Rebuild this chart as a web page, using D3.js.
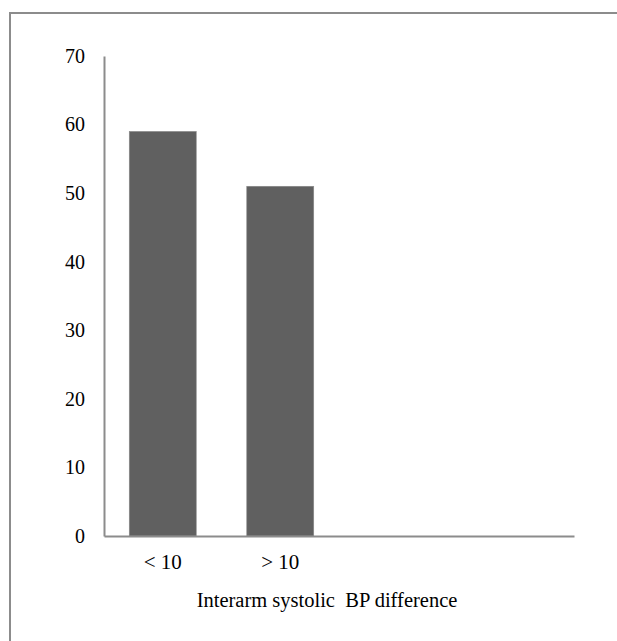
<!DOCTYPE html>
<html>
<head>
<meta charset="utf-8">
<script src="https://cdn.jsdelivr.net/npm/d3@7"></script>
<style>
  html, body { margin: 0; padding: 0; background: #fff; }
  svg { display: block; }
  svg text { font-family: "Liberation Serif", "Times New Roman", serif !important; fill: #000; white-space: pre; }
</style>
</head>
<body>
<svg id="chart" width="617" height="641"></svg>
<script>
// Interarm systolic BP difference groups and their counts
const categories = ["< 10", "> 10"];
const slotCount = 4; // category axis reserves four slots; only two are filled
const counts = [59, 51];
const yTicks = [0, 10, 20, 30, 40, 50, 60, 70];
const axisTitle = "Interarm systolic  BP difference";

const svg = d3.select("#chart");
const W = 617, H = 641;
const margin = { left: 104, right: 43, top: 56, bottom: 105 };
const plotW = W - margin.left - margin.right;
const plotH = H - margin.top - margin.bottom;

// Outer frame, open on the right and bottom edges
svg.append("rect")
  .attr("x", 10).attr("y", 13)
  .attr("width", W + 20).attr("height", H + 20)
  .attr("fill", "none")
  .attr("stroke", "#8c8c8c")
  .attr("stroke-width", 2);

const g = svg.append("g").attr("transform", `translate(${margin.left},${margin.top})`);

const x = d3.scaleBand()
  .domain(d3.range(slotCount))
  .range([0, plotW])
  .paddingInner(0.43)
  .paddingOuter(0.215);

const y = d3.scaleLinear().domain([0, 70]).range([plotH, 0]);

// Bars
g.selectAll("rect.bar")
  .data(counts)
  .join("rect")
  .attr("class", "bar")
  .attr("x", (d, i) => x(i))
  .attr("y", d => y(d))
  .attr("width", x.bandwidth())
  .attr("height", d => y(0) - y(d))
  .attr("fill", "#606060")
  .attr("stroke", "#8a8a8a")
  .attr("stroke-width", 0.6);

// Y axis: line plus labels, no tick marks
const yAxis = g.append("g")
  .call(d3.axisLeft(y).tickValues(yTicks).tickSize(0).tickPadding(19).tickFormat(d3.format("d")));
yAxis.select(".domain").attr("stroke", "#8c8c8c").attr("stroke-width", 2);
yAxis.selectAll("text")
  .attr("font-size", 20)
  .attr("dy", "0.32em")
  .attr("fill", "#000");

// X axis: baseline with category labels
const xAxis = g.append("g")
  .attr("transform", `translate(0,${plotH})`)
  .call(d3.axisBottom(x).tickSize(0).tickPadding(18)
    .tickFormat(i => categories[i] || ""));
xAxis.select(".domain").attr("stroke", "#8c8c8c").attr("stroke-width", 2);
xAxis.selectAll("text")
  .attr("font-size", 21)
  .attr("fill", "#000");

// Axis title
svg.append("text")
  .attr("x", 327)
  .attr("y", 607)
  .attr("text-anchor", "middle")
  .attr("font-size", 20.5)
  .text(axisTitle);
</script>
</body>
</html>
